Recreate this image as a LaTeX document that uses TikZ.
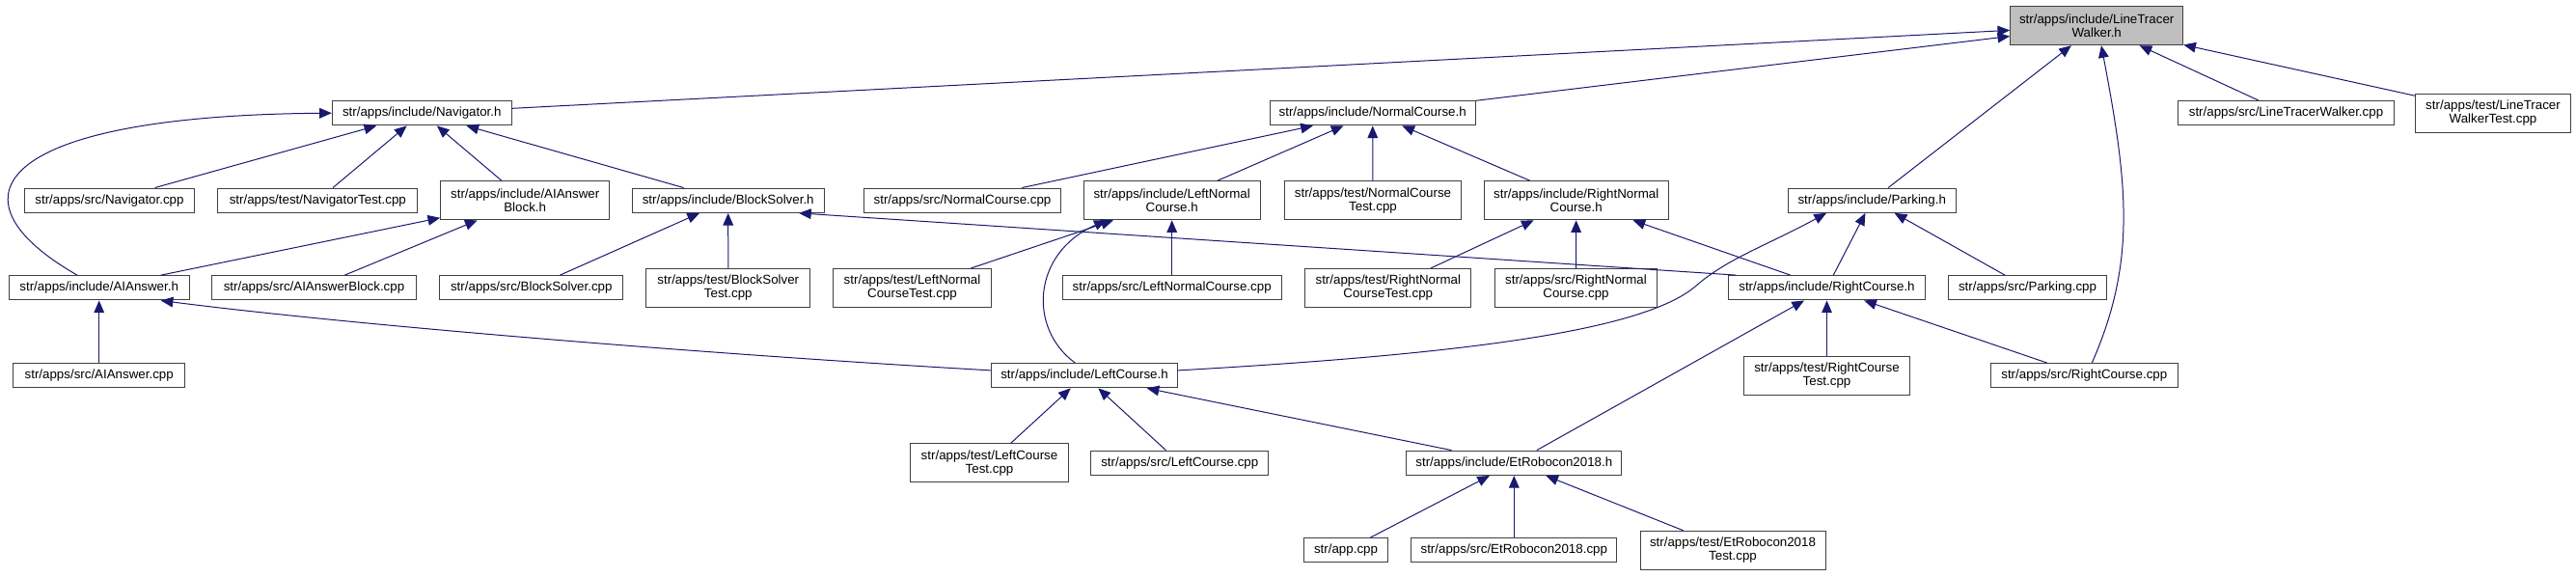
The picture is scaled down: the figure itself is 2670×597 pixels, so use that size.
\documentclass[tikz,border=0pt]{standalone}
\usepackage{fontspec}
\setmainfont{Liberation Sans}
\usetikzlibrary{arrows.meta}
\definecolor{edgeblue}{HTML}{191970}
\definecolor{nodegray}{HTML}{BFBFBF}
\begin{document}
\begin{tikzpicture}[x=0.75pt,y=-0.75pt,
  box/.style={draw=black!75, line width=0.75pt, fill=white, inner xsep=2pt, inner ysep=0pt, align=center, font=\fontsize{10}{10.5}\selectfont},
  one/.style={minimum height=19pt},
  two/.style={minimum height=30pt},
  edge/.style={draw=edgeblue, line width=0.75pt, -{Triangle[length=9.5pt,width=8pt]}}]
\useasboundingbox (0,0) rectangle (2670,597);

% row 1
\node[box, two, minimum width=134.3pt, fill=nodegray] (ltw) at (2173.2,26.7) {str/apps/include/LineTracer\\Walker.h};
% row 2
\node[box, one, minimum width=139.5pt] (nav) at (437.3,117.2) {str/apps/include/Navigator.h};
\node[box, one, minimum width=160pt] (nc) at (1422.7,117.2) {str/apps/include/NormalCourse.h};
\node[box, one, minimum width=167.3pt] (ltwcpp) at (2369.5,117.2) {str/apps/src/LineTracerWalker.cpp};
\node[box, two, minimum width=120.5pt] (ltwtest) at (2584,117) {str/apps/test/LineTracer\\WalkerTest.cpp};
% row 3
\node[box, one, minimum width=132.3pt] (navcpp) at (113.5,207.7) {str/apps/src/Navigator.cpp};
\node[box, one, minimum width=155pt] (navtest) at (329.3,207.7) {str/apps/test/NavigatorTest.cpp};
\node[box, two, minimum width=131.3pt] (aibh) at (544.2,207.8) {str/apps/include/AIAnswer\\Block.h};
\node[box, one, minimum width=149pt] (bsh) at (754.7,207.7) {str/apps/include/BlockSolver.h};
\node[box, one, minimum width=152.7pt] (nccpp) at (997.5,207.7) {str/apps/src/NormalCourse.cpp};
\node[box, two, minimum width=137pt] (lnch) at (1214.7,207.8) {str/apps/include/LeftNormal\\Course.h};
\node[box, two, minimum width=137pt] (nctest) at (1423,207.8) {str/apps/test/NormalCourse\\Test.cpp};
\node[box, two, minimum width=143pt] (rnch) at (1633.7,207.8) {str/apps/include/RightNormal\\Course.h};
\node[box, one, minimum width=130.3pt] (park) at (1940.2,207.7) {str/apps/include/Parking.h};
% row 4
\node[box, one, minimum width=140pt] (aih) at (102.7,298.3) {str/apps/include/AIAnswer.h};
\node[box, one, minimum width=158.3pt] (aibcpp) at (325.5,298.3) {str/apps/src/AIAnswerBlock.cpp};
\node[box, one, minimum width=142.7pt] (bscpp) at (550.8,298.3) {str/apps/src/BlockSolver.cpp};
\node[box, two, minimum width=127.3pt] (bstest) at (754.8,298.5) {str/apps/test/BlockSolver\\Test.cpp};
\node[box, two, minimum width=122.3pt] (lnctest) at (945.5,298.5) {str/apps/test/LeftNormal\\CourseTest.cpp};
\node[box, one, minimum width=170pt] (lnccpp) at (1214.7,298.3) {str/apps/src/LeftNormalCourse.cpp};
\node[box, two, minimum width=129.2pt] (rnctest) at (1438.8,298.5) {str/apps/test/RightNormal\\CourseTest.cpp};
\node[box, two, minimum width=126.3pt] (rnccpp) at (1633.5,298.5) {str/apps/src/RightNormal\\Course.cpp};
\node[box, one, minimum width=152.3pt] (rch) at (1893.5,298.3) {str/apps/include/RightCourse.h};
\node[box, one, minimum width=123.3pt] (parkcpp) at (2101.5,298.3) {str/apps/src/Parking.cpp};
% row 5
\node[box, one, minimum width=133.5pt] (aicpp) at (102.7,389.2) {str/apps/src/AIAnswer.cpp};
\node[box, one, minimum width=145pt] (lch) at (1124,389.2) {str/apps/include/LeftCourse.h};
\node[box, two, minimum width=129.3pt] (rctest) at (1893.5,389) {str/apps/test/RightCourse\\Test.cpp};
\node[box, one, minimum width=145.5pt] (rccpp) at (2160.3,389.2) {str/apps/src/RightCourse.cpp};
% row 6
\node[box, two, minimum width=122.3pt] (lctest) at (1025.5,479.7) {str/apps/test/LeftCourse\\Test.cpp};
\node[box, one, minimum width=138.2pt] (lccpp) at (1222.8,479.8) {str/apps/src/LeftCourse.cpp};
\node[box, one, minimum width=167.5pt] (eth) at (1569.3,479.8) {str/apps/include/EtRobocon2018.h};
% row 7
\node[box, one, minimum width=65pt] (app) at (1395,570.3) {str/app.cpp};
\node[box, one, minimum width=160pt] (etcpp) at (1569.3,570.3) {str/apps/src/EtRobocon2018.cpp};
\node[box, two, minimum width=144pt] (ettest) at (1796,570.3) {str/apps/test/EtRobocon2018\\Test.cpp};

% edges to LineTracerWalker.h
\draw[edge] (nav) -- (ltw);
\draw[edge] (nc) -- (ltw);
\draw[edge] (park) -- (ltw);
\draw[edge] ([xshift=6pt]rccpp.north) .. controls (2215,270) and (2205,190) .. ([xshift=3.6pt]ltw.south);
\draw[edge] (ltwcpp) -- (ltw);
\draw[edge] (ltwtest) -- (ltw);
% Navigator.h
\draw[edge] ([xshift=-17pt]aih.north) .. controls (-60,205) and (-5,120) .. (nav.west);
\draw[edge] (navcpp) -- (nav);
\draw[edge] (navtest) -- (nav);
\draw[edge] (aibh) -- (nav);
\draw[edge] (bsh) -- (nav);
% NormalCourse.h
\draw[edge] (nccpp) -- (nc);
\draw[edge] (lnch) -- (nc);
\draw[edge] (nctest) -- (nc);
\draw[edge] (rnch) -- (nc);
% AIAnswerBlock.h
\draw[edge] (aih) -- (aibh);
\draw[edge] (aibcpp) -- (aibh);
% BlockSolver.h
\draw[edge] (bscpp) -- (bsh);
\draw[edge] (bstest) -- (bsh);
\draw[edge] ([xshift=6pt]rch.north west) -- ([xshift=55pt]bsh.south);
% LeftNormalCourse.h
\draw[edge] (lnctest) -- (lnch);
\draw[edge] (lnccpp) -- (lnch);
\draw[edge] ([xshift=-7.3pt]lch.north) .. controls (1065,340) and (1070,262) .. ([xshift=-51pt]lnch.south);
% RightNormalCourse.h
\draw[edge] (rnctest) -- (rnch);
\draw[edge] (rnccpp) -- (rnch);
\draw[edge] (rch) -- (rnch);
% Parking.h
\draw[edge] (rch) -- (park);
\draw[edge] (parkcpp) -- (park);
\draw[edge] ([yshift=4pt]lch.east) .. controls (1500,368) and (1700,345) .. (1757,297) .. controls (1790,268) and (1830,255) .. ([xshift=-35.4pt]park.south);
% AIAnswer.h
\draw[edge] (aicpp) -- (aih);
\draw[edge] ([yshift=4pt]lch.west) .. controls (700,365) and (350,335) .. ([xshift=48pt]aih.south);
% RightCourse.h
\draw[edge] (rctest) -- (rch);
\draw[edge] (rccpp) -- (rch);
\draw[edge] (eth) -- (rch);
% LeftCourse.h
\draw[edge] (lctest) -- (lch);
\draw[edge] (lccpp) -- (lch);
\draw[edge] (eth) -- (lch);
% EtRobocon2018.h
\draw[edge] (app) -- (eth);
\draw[edge] (etcpp) -- (eth);
\draw[edge] (ettest) -- (eth);
\end{tikzpicture}
\end{document}
